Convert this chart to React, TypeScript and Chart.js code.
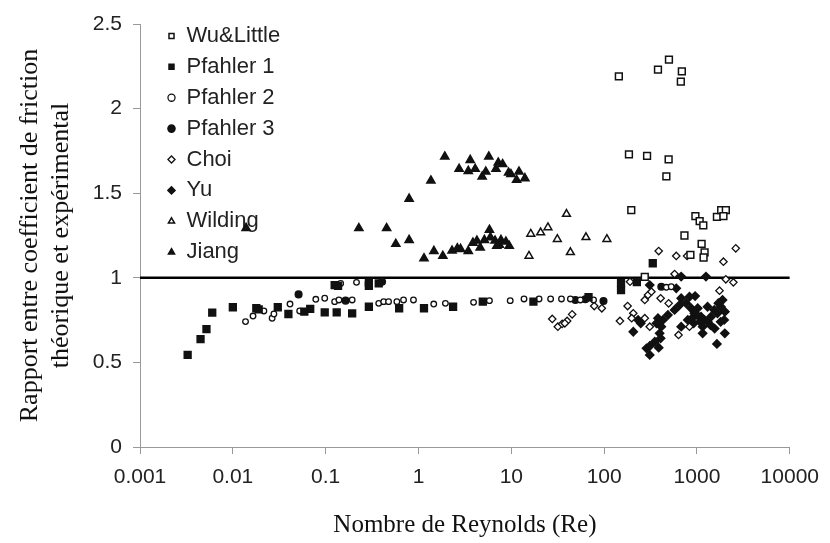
import { useEffect, useRef } from 'react';
import { Chart, registerables } from 'chart.js';

Chart.register(...registerables);

// ---- data: [Reynolds number, friction ratio] ----
const xTickValues = [0.001, 0.01, 0.1, 1, 10, 100, 1000, 10000];
const xTickLabels = ['0.001', '0.01', '0.1', '1', '10', '100', '1000', '10000'];
const yTickValues = [0, 0.5, 1, 1.5, 2, 2.5];
const yTickLabels = ['0', '0.5', '1', '1.5', '2', '2.5'];
const referenceRatio = 1;

const seriesNames = ['Wu&Little', 'Pfahler 1', 'Pfahler 2', 'Pfahler 3', 'Choi', 'Yu', 'Wilding', 'Jiang'];

const wuLittle: [number, number][] = [
  [144, 2.19], [380, 2.23], [499, 2.29], [687, 2.22], [670, 2.16], [185, 1.73], [290, 1.72],
  [495, 1.7], [468, 1.6], [196, 1.4], [962, 1.365], [1069, 1.335], [1170, 1.31], [1640, 1.36],
  [1823, 1.4], [2046, 1.4], [1928, 1.365], [733, 1.25], [1122, 1.2], [1208, 1.15], [1178, 1.12],
  [850, 1.135], [274, 1.005],
];

const pfahler1: [number, number][] = [
  [0.00326, 0.544], [0.00449, 0.638], [0.0052, 0.697], [0.006, 0.794], [0.01, 0.826], [0.0179, 0.82],
  [0.019, 0.814], [0.0305, 0.826], [0.0397, 0.786], [0.0589, 0.8], [0.0682, 0.816], [0.0977, 0.796],
  [0.1315, 0.796], [0.136, 0.952], [0.125, 0.957], [0.193, 0.79], [0.292, 0.973], [0.292, 0.953],
  [0.373, 0.967], [0.292, 0.829], [0.619, 0.82], [1.146, 0.82], [2.36, 0.829], [4.93, 0.859],
  [17.3, 0.859], [67.9, 0.885], [152, 0.969], [152, 0.928], [225, 0.975], [334, 1.086],
];

const pfahler2: [number, number][] = [
  [0.0137, 0.741], [0.0165, 0.774], [0.0216, 0.804], [0.0265, 0.761], [0.0277, 0.786], [0.0413, 0.845],
  [0.0525, 0.804], [0.0783, 0.873], [0.0977, 0.879], [0.125, 0.859], [0.145, 0.967], [0.215, 0.973],
  [0.139, 0.869], [0.193, 0.869], [0.373, 0.849], [0.422, 0.859], [0.476, 0.859], [0.585, 0.859],
  [0.69, 0.869], [0.883, 0.869], [1.46, 0.845], [1.95, 0.849], [3.92, 0.855], [5.81, 0.865],
  [9.73, 0.865], [13.7, 0.875], [19.9, 0.875], [26.5, 0.875], [34.7, 0.875], [43.3, 0.875],
  [55.4, 0.869], [76.9, 0.869], [468, 0.944], [528, 0.947],
];

const pfahler3: [number, number][] = [
  [0.0511, 0.902], [0.164, 0.865], [0.405, 0.977], [49, 0.869], [62.7, 0.873], [98.4, 0.863], [413, 0.947],
];

const choi: [number, number][] = [
  [27.6, 0.757], [31.7, 0.711], [35.3, 0.727], [39.9, 0.745], [45.2, 0.784], [37.7, 0.731], [78.2, 0.833],
  [94.4, 0.82], [190, 0.977], [179, 0.833], [148, 0.745], [206, 0.79], [274, 0.869], [297, 0.898],
  [323, 0.918], [406, 0.879], [495, 0.849], [274, 0.761], [198, 0.761], [310, 0.711], [387, 1.158],
  [598, 1.129], [783, 1.129], [1928, 1.095], [2617, 1.174], [2046, 0.991], [2466, 0.973], [1749, 0.924],
  [574, 1.022], [633, 0.662], [830, 0.711],
];

const yu: [number, number][] = [
  [310, 0.957], [676, 1.007], [1250, 1.007], [598, 0.938], [676, 0.879], [649, 0.839], [574, 0.81],
  [486, 0.78], [430, 0.751], [380, 0.761], [366, 0.731], [413, 0.711], [396, 0.672], [406, 0.642],
  [351, 0.622], [310, 0.597], [286, 0.583], [310, 0.544], [387, 0.587], [206, 0.681], [248, 0.731],
  [232, 0.751], [765, 0.849], [865, 0.82], [938, 0.79], [1018, 0.82], [1106, 0.77], [1200, 0.751],
  [1151, 0.711], [1151, 0.672], [1300, 0.741], [1416, 0.77], [1535, 0.81], [1664, 0.79], [1808, 0.829],
  [1884, 0.869], [1963, 0.751], [1995, 0.672], [1640, 0.609], [830, 0.888], [955, 0.892], [1300, 0.829],
  [676, 0.711], [796, 0.751], [922, 0.731], [1000, 0.78], [880, 0.76], [1080, 0.74], [1400, 0.72],
  [1550, 0.7], [1800, 0.74], [2000, 0.8], [1700, 0.85],
];

const wilding: [number, number][] = [
  [15.5, 1.129], [16.2, 1.259], [20.7, 1.267], [24.8, 1.298], [31.3, 1.228], [39.3, 1.377], [43.3, 1.151],
  [63.7, 1.239], [107, 1.228],
];

const jiang: [number, number][] = [
  [1.92, 1.716], [3.61, 1.696], [5.72, 1.716], [2.74, 1.643], [3.44, 1.631], [4.08, 1.643], [5.31, 1.627],
  [4.85, 1.598], [7.24, 1.68], [8.07, 1.671], [6.84, 1.643], [9.35, 1.621], [9.91, 1.612], [12.1, 1.627],
  [11.4, 1.578], [14.0, 1.588], [1.36, 1.574], [0.793, 1.467],
  [0.0139, 1.294], [0.228, 1.293], [0.454, 1.293], [0.57, 1.2], [0.793, 1.223], [1.146, 1.115],
  [1.466, 1.158], [1.83, 1.129], [2.3, 1.16], [2.62, 1.174], [2.84, 1.17], [3.44, 1.158], [3.86, 1.207],
  [4.26, 1.219], [4.62, 1.178], [5.13, 1.223], [5.81, 1.283], [5.95, 1.239], [6.68, 1.219], [7.43, 1.194],
  [7.74, 1.223], [8.75, 1.213], [9.5, 1.188], [6.97, 1.188],
];

const INK = '#111';
const AXIS_GREY = '#999';

const toPts = (arr: [number, number][]) => arr.map(([x, y]) => ({ x, y }));

const legendPlacer = {
  id: 'legendPlacer',
  place(chart: any) {
    const lg = chart.legend;
    if (!lg) return;
    lg.left = 158.6;
    lg.top = 16;
    lg.width = 260;
    lg.height = 300;
    lg.right = lg.left + lg.width;
    lg.bottom = lg.top + lg.height;
  },
  afterLayout(chart: any) {
    legendPlacer.place(chart);
  },
  beforeDraw(chart: any) {
    legendPlacer.place(chart);
  },
};

export default function App() {
  const ref = useRef<HTMLCanvasElement>(null);

  useEffect(() => {
    const mk = (i: number, data: [number, number][], style: string, radius: number, filled: boolean, bw = 1.5) => ({
      label: seriesNames[i],
      data: toPts(data),
      pointStyle: style,
      pointRadius: radius,
      pointHoverRadius: radius,
      backgroundColor: filled ? INK : '#fff',
      borderColor: INK,
      borderWidth: bw,
      showLine: false,
    });

    const chart = new Chart(ref.current as HTMLCanvasElement, {
      type: 'scatter',
      data: {
        datasets: [
          mk(0, wuLittle, 'rect', 4.8, false),
          mk(1, pfahler1, 'rect', 4.8, true),
          mk(2, pfahler2, 'circle', 2.8, false, 1.3),
          mk(3, pfahler3, 'circle', 3.3, true),
          mk(4, choi, 'rectRot', 3.7, false, 1.3),
          mk(5, yu, 'rectRot', 4.1, true),
          mk(6, wilding, 'triangle', 4.5, false),
          mk(7, jiang, 'triangle', 4.7, true),
          {
            label: '',
            type: 'line',
            data: [
              { x: xTickValues[0], y: referenceRatio },
              { x: xTickValues[xTickValues.length - 1], y: referenceRatio },
            ],
            borderColor: '#000',
            borderWidth: 2.5,
            pointRadius: 0,
            showLine: true,
          } as any,
        ],
      },
      options: {
        responsive: false,
        animation: false,
        layout: { padding: { left: 0, top: 24, right: 34, bottom: 0 } },
        plugins: {
          legend: {
            position: 'chartArea' as any,
            align: 'start',
            labels: {
              usePointStyle: true,
              boxWidth: 8,
              boxHeight: 5,
              padding: 8.9,
              color: '#222',
              font: { family: 'Liberation Sans', size: 22 },
              filter: (item: any) => item.text !== '',
            },
          },
          tooltip: { enabled: false },
        },
        scales: {
          x: {
            type: 'logarithmic',
            position: 'bottom',
            min: xTickValues[0],
            max: xTickValues[xTickValues.length - 1],
            afterBuildTicks: (s: any) => {
              s.ticks = xTickValues.map((v) => ({ value: v }));
            },
            afterFit: (s: any) => {
              s.height = 96;
            },
            ticks: {
              autoSkip: false,
              maxRotation: 0,
              padding: 11,
              color: '#222',
              font: { family: 'Liberation Sans', size: 21 },
              callback: (v: any) => {
                const idx = xTickValues.findIndex((t) => Math.abs(Math.log10(t) - Math.log10(Number(v))) < 1e-6);
                return idx >= 0 ? xTickLabels[idx] : '';
              },
            },
            grid: { drawOnChartArea: false, drawTicks: true, tickLength: 7, color: AXIS_GREY },
            border: { color: AXIS_GREY, width: 1 },
            title: {
              display: true,
              text: 'Nombre de Reynolds (Re)',
              color: INK,
              font: { family: 'Liberation Serif', size: 25 },
              padding: { top: 0, bottom: 3 },
            },
          },
          y: {
            type: 'linear',
            min: yTickValues[0],
            max: yTickValues[yTickValues.length - 1],
            afterBuildTicks: (s: any) => {
              s.ticks = yTickValues.map((v) => ({ value: v }));
            },
            afterFit: (s: any) => {
              s.width = 140;
            },
            ticks: {
              padding: 11,
              color: '#222',
              font: { family: 'Liberation Sans', size: 21 },
              callback: (v: any) => {
                const idx = yTickValues.findIndex((t) => Math.abs(t - Number(v)) < 1e-9);
                return idx >= 0 ? yTickLabels[idx] : '';
              },
            },
            grid: { drawOnChartArea: false, drawTicks: true, tickLength: 7, color: AXIS_GREY },
            border: { color: AXIS_GREY, width: 1 },
            title: {
              display: true,
              text: ['Rapport entre coefficient de friction', 'théorique et expérimental'],
              color: INK,
              font: { family: 'Liberation Serif', size: 26, lineHeight: '31px' as any },
              padding: { top: 14.5, bottom: 0 },
            },
          },
        },
      },
      plugins: [legendPlacer],
    } as any);

    return () => chart.destroy();
  }, []);

  return (
    <div style={{ position: 'absolute', left: 0, top: 0, width: 830, height: 543, background: '#fff' }}>
      <canvas ref={ref} width={830} height={543} />
    </div>
  );
}
